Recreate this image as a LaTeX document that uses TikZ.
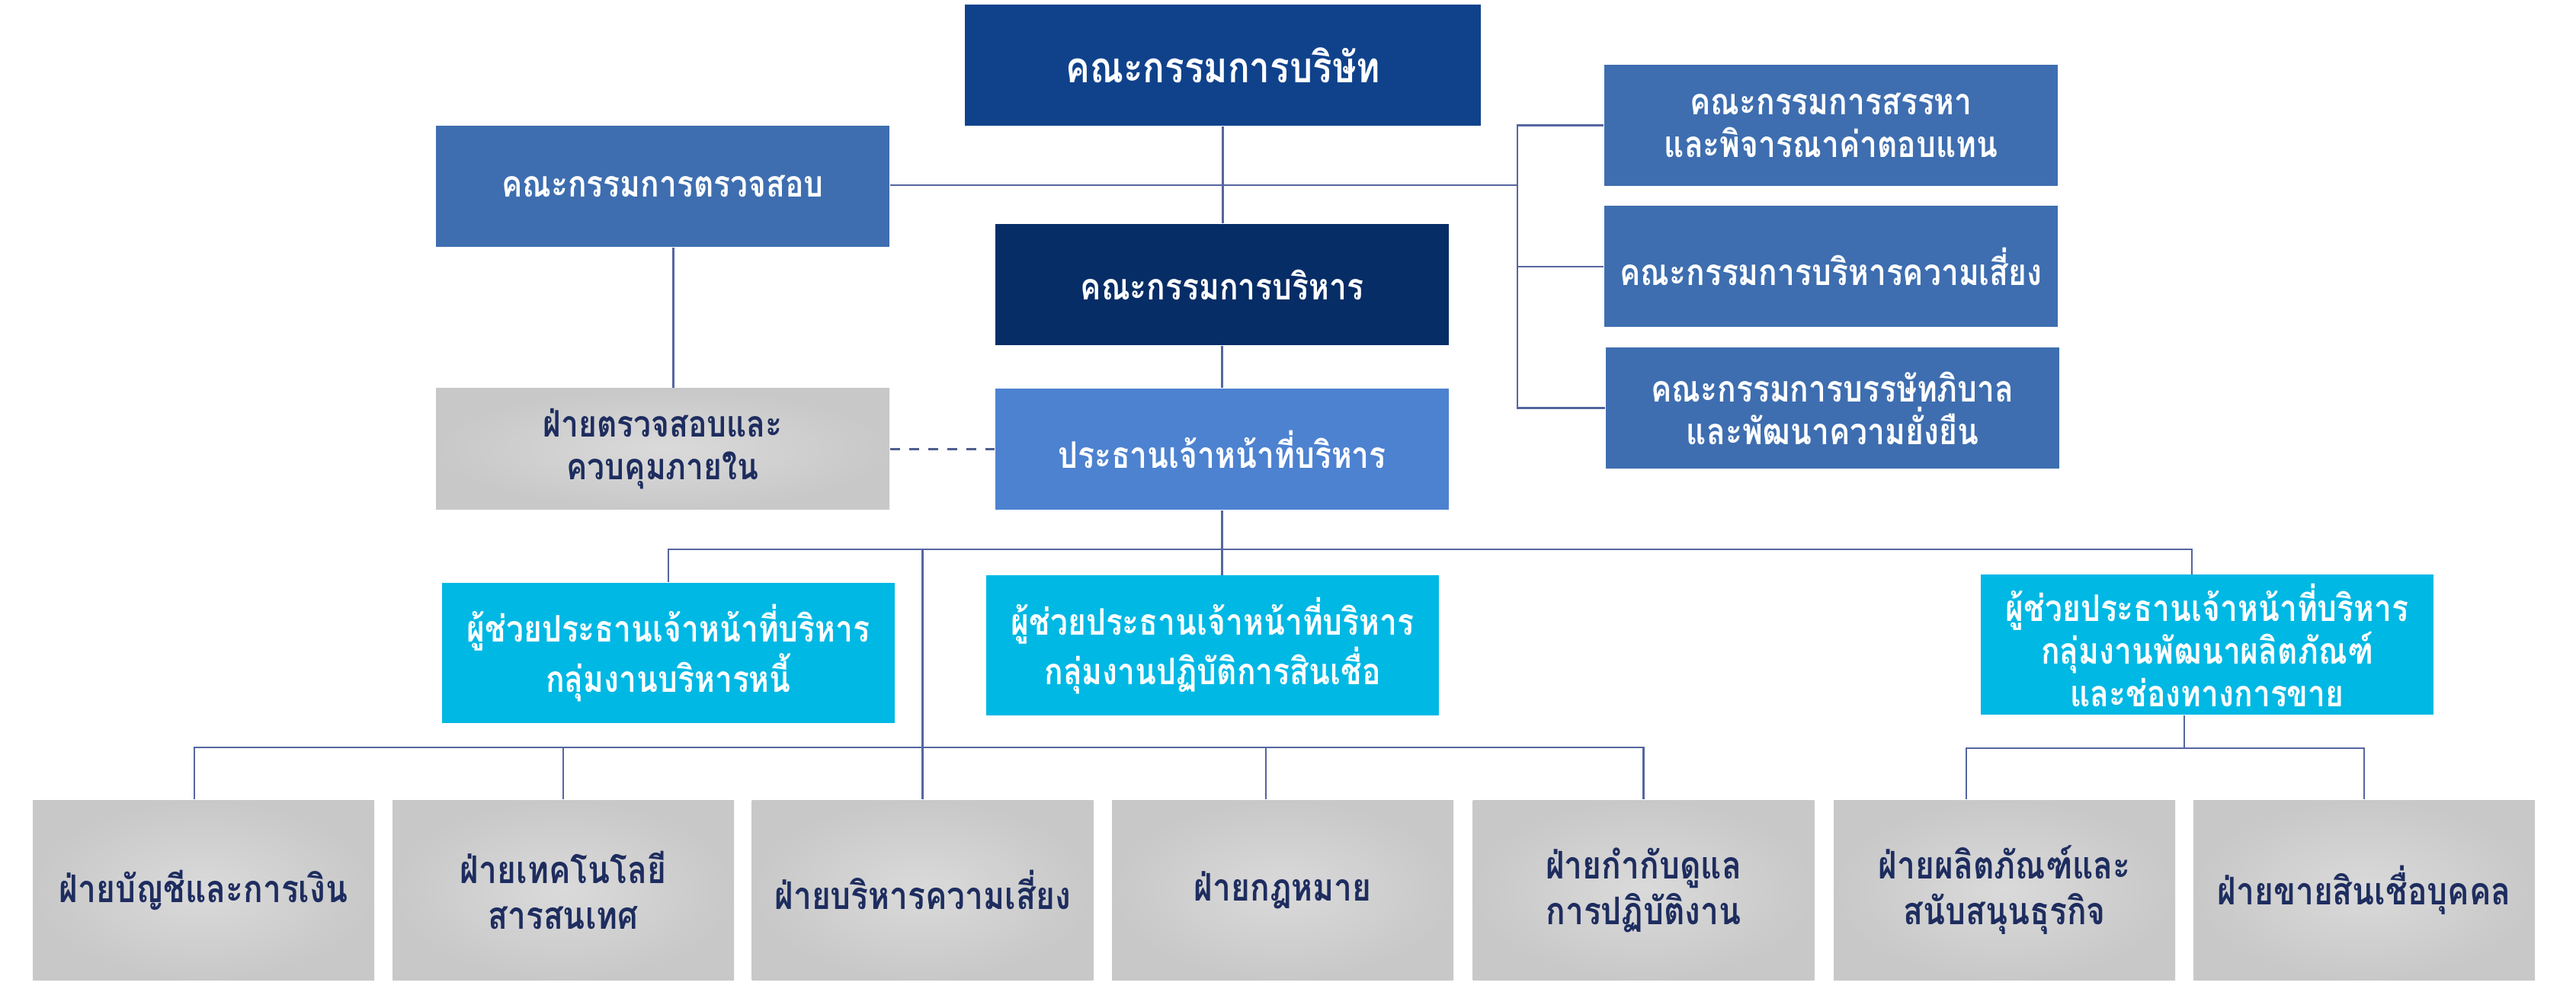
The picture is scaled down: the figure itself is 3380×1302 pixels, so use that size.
\documentclass[tikz,border=0pt]{standalone}
\usepackage{fontspec}
\newfontfamily\thai[Script=Thai,FakeStretch=0.85]{Loma}
\definecolor{deptlight}{RGB}{218,218,218}
\definecolor{deptdark}{RGB}{200,200,200}

\begin{document}
\begin{tikzpicture}[x=0.25pt,y=0.25pt,yscale=-1,xscale=1,
  unit/.style={rectangle, inner sep=2pt, align=center, minimum width=148.75pt, minimum height=39.75pt, text=white, font=\thai\bfseries\fontsize{12}{14}\selectfont},
  boardbox/.style={unit, fill={rgb, 255:red, 16; green, 66; blue, 140 }, minimum width=169.25pt, font=\thai\bfseries\fontsize{14}{16}\selectfont},
  committee/.style={unit, fill={rgb, 255:red, 62; green, 110; blue, 176 }},
  execbox/.style={unit, fill={rgb, 255:red, 7; green, 45; blue, 102 }},
  ceobox/.style={unit, fill={rgb, 255:red, 77; green, 130; blue, 208 }},
  assist/.style={unit, fill={rgb, 255:red, 0; green, 184; blue, 228 }, minimum width=148.5pt, minimum height=46pt},
  dept/.style={unit, shading=radial, inner color=deptlight, outer color=deptdark, text={rgb, 255:red, 30; green, 45; blue, 95 }, minimum width=112pt, minimum height=59pt, font=\thai\bfseries\fontsize{12.5}{15}\selectfont},
  link/.style={draw={rgb, 255:red, 85; green, 102; blue, 160 }, line width=0.7pt},
  dotlink/.style={draw={rgb, 255:red, 79; green, 94; blue, 143 }, line width=0.8pt, dash pattern={on 3.25pt off 3pt}}
]
\useasboundingbox (0,0) rectangle (3380,1302);

%Shape: Rectangle [board]
\node[boardbox] (board) at (1604.5,85.5) {คณะกรรมการบริษัท};
%Shape: Rectangle [audit committee]
\node[committee] (audit) at (869.5,244.5) {คณะกรรมการตรวจสอบ};
%Shape: Rectangle [executive committee]
\node[execbox] (exec) at (1603.5,373.5) {คณะกรรมการบริหาร};
%Shape: Rectangle [internal audit]
\node[dept, minimum width=148.75pt, minimum height=39.75pt, font=\thai\bfseries\fontsize{12}{14}\selectfont] (ia) at (869.5,589.5) {ฝ่ายตรวจสอบและ\\ควบคุมภายใน};
%Shape: Rectangle [ceo]
\node[ceobox] (ceo) at (1603.5,589.5) {ประธานเจ้าหน้าที่บริหาร};

%Shape: Rectangle [sub committees]
\node[committee] (nomination) at (2402.5,164.5) {คณะกรรมการสรรหา\\และพิจารณาค่าตอบแทน};
\node[committee] (riskcom) at (2402.5,350) {คณะกรรมการบริหารความเสี่ยง};
\node[committee] (governance) at (2404.5,535.5) {คณะกรรมการบรรษัทภิบาล\\และพัฒนาความยั่งยืน};

%Shape: Rectangle [assistants]
\node[assist] (debt) at (877,857) {ผู้ช่วยประธานเจ้าหน้าที่บริหาร\\กลุ่มงานบริหารหนี้};
\node[assist] (credit) at (1591,847.5) {ผู้ช่วยประธานเจ้าหน้าที่บริหาร\\กลุ่มงานปฏิบัติการสินเชื่อ};
\node[assist] (product) at (2896,846.5) {ผู้ช่วยประธานเจ้าหน้าที่บริหาร\\กลุ่มงานพัฒนาผลิตภัณฑ์\\และช่องทางการขาย};

%Shape: Rectangle [departments]
\node[dept] (acc) at (267,1168) {ฝ่ายบัญชีและการเงิน};
\node[dept] (it) at (739,1168) {ฝ่ายเทคโนโลยี\\สารสนเทศ};
\node[dept] (riskdept) at (1210.5,1168) {ฝ่ายบริหารความเสี่ยง};
\node[dept] (legal) at (1683,1168) {ฝ่ายกฎหมาย};
\node[dept] (compliance) at (2156.5,1168) {ฝ่ายกำกับดูแล\\การปฏิบัติงาน};
\node[dept] (prod) at (2630,1168) {ฝ่ายผลิตภัณฑ์และ\\สนับสนุนธุรกิจ};
\node[dept] (sales) at (3102,1168) {ฝ่ายขายสินเชื่อบุคคล};

%Straight Lines [board level]
\coordinate (hub) at (1991,243);
\draw[link] (board.south) -- (board.south |- exec.north);
\draw[link] (audit.east |- hub) -- (hub);
\draw[link] (nomination.west) -- (nomination.west -| hub) |- (governance.west);
\draw[link] (riskcom.west) -- (riskcom.west -| hub);
\draw[link] ([xshift=3.5pt]audit.south) -- ([xshift=3.5pt]ia.north);
\draw[link] (exec) -- (ceo);
\draw[dotlink] (ia) -- (ceo);

%Straight Lines [ceo level]
\coordinate (tier) at (1603.5,721);
\draw[link] (ceo.south) -- (ceo.south |- credit.north);
\draw[link] (debt.north) |- (tier) -| ([xshift=-5pt]product.north);
\draw[link] (riskdept.north) -- (riskdept.north |- tier);

%Straight Lines [departments]
\coordinate (deptbus) at (1210.5,981);
\draw[link] ([xshift=-3pt]acc.north) |- (deptbus) -| (compliance.north);
\draw[link] (it.north) -- (it.north |- deptbus);
\draw[link] ([xshift=-5.5pt]legal.north) -- ([xshift=-5.5pt]legal.north |- deptbus);
\coordinate (prodbus) at (2866,982);
\draw[link] (product.south -| prodbus) -- (prodbus);
\draw[link] ([xshift=-12.5pt]prod.north) |- (prodbus) -| (sales.north);

\end{tikzpicture}
\end{document}
